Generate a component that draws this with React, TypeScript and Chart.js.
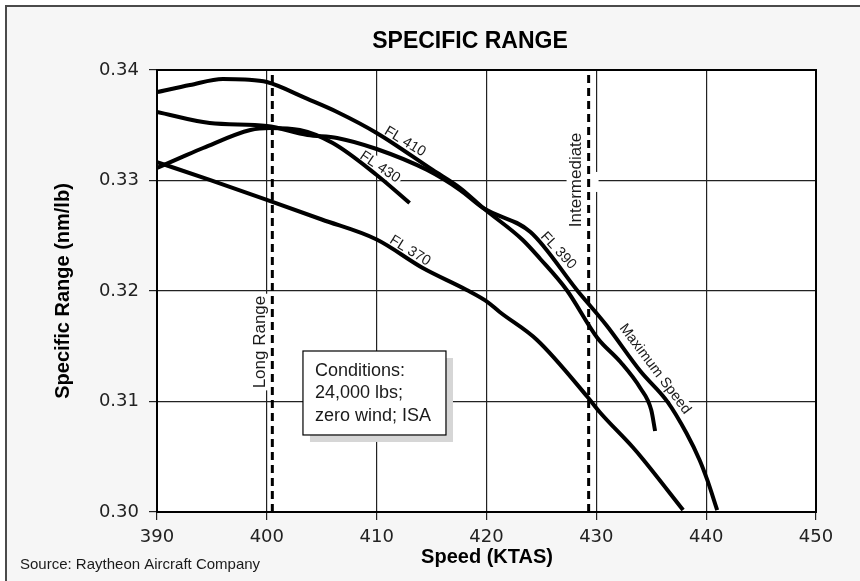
import React, { useEffect, useRef } from "react";
import { Chart, registerables } from "chart.js";

Chart.register(...registerables);

// ---------- data ----------
const X_TICKS = [390, 400, 410, 420, 430, 440, 450];
const Y_TICKS = [0.3, 0.31, 0.32, 0.33, 0.34];

const FL370_SPEED = [390.0, 394.8, 400.0, 405.0, 410.0, 414.2, 418.2, 420.1, 421.2, 424.6, 429.2, 430.3, 433.3, 434.3, 437.9];
const FL370_SR = [0.33167, 0.33005, 0.32824, 0.32647, 0.32466, 0.32208, 0.32009, 0.319, 0.3181, 0.31557, 0.31041, 0.30905, 0.30588, 0.30471, 0.30018];

const FL390_SPEED = [390.0, 394.8, 400.0, 403.7, 406.4, 410.0, 414.6, 417.6, 419.7, 424.0, 428.3, 430.9, 434.0, 436.5, 438.2, 439.4, 440.1, 441.0];
const FL390_SR = [0.3362, 0.3352, 0.33493, 0.33412, 0.33385, 0.33285, 0.33095, 0.32914, 0.32751, 0.32534, 0.32, 0.31692, 0.31276, 0.30995, 0.30715, 0.30471, 0.3029, 0.30018];

const FL410_SPEED = [390.0, 393.0, 396.0, 398.0, 400.0, 403.7, 406.4, 410.0, 415.1, 417.6, 419.7, 423.3, 424.9, 427.3, 430.1, 432.2, 434.0, 435.0, 435.35];
const FL410_SR = [0.338, 0.33864, 0.33919, 0.33914, 0.33891, 0.33738, 0.3362, 0.3343, 0.33095, 0.32932, 0.32751, 0.32462, 0.3229, 0.32009, 0.31575, 0.31357, 0.31122, 0.30923, 0.30733];

const FL430_SPEED = [390.0, 392.1, 394.2, 398.5, 400.3, 403.0, 406.0, 410.0, 413.0];
const FL430_SR = [0.33113, 0.33204, 0.33294, 0.33457, 0.33475, 0.33457, 0.33339, 0.3305, 0.32796];

const LONG_RANGE_SPEED = 400.5;
const INTERMEDIATE_SPEED = 429.3;

// ---------- texts ----------
const TITLE = "SPECIFIC RANGE";
const X_TITLE = "Speed (KTAS)";
const Y_TITLE = "Specific Range (nm/lb)";
const SOURCE = "Source: Raytheon Aircraft Company";
const CONDITIONS = ["Conditions:", "24,000 lbs;", "zero wind; ISA"];

type Label = {
  text: string;
  speed: number;
  sr: number;
  angle: number;
  size: number;
  gap?: [number, number, number, number];
};

const CURVE_LABELS: Label[] = [
  { text: "FL 410", speed: 412.58, sr: 0.33351, angle: 31, size: 14.5 },
  { text: "FL 430", speed: 410.3, sr: 0.33122, angle: 34, size: 14.5 },
  { text: "FL 370", speed: 413.04, sr: 0.32364, angle: 32, size: 14.5 },
  { text: "FL 390", speed: 426.54, sr: 0.32364, angle: 47, size: 14.5 },
  { text: "Maximum Speed", speed: 435.34, sr: 0.31294, angle: 53, size: 14.5 },
  { text: "Long Range", speed: 399.38, sr: 0.31538, angle: -90, size: 17 },
  { text: "Intermediate", speed: 428.2, sr: 0.33005, angle: -90, size: 17, gap: [-10, -8, 22, 12] },
];

const CONDITIONS_BOX = { speed0: 403.29, sr0: 0.31457, speed1: 416.31, sr1: 0.30697 };

const SANS = '"Liberation Sans", Arial, sans-serif';
const TICK_FONT = '"DejaVu Sans", sans-serif';

const pts = (sp: number[], sr: number[]) => sp.map((x, i) => ({ x, y: sr[i] }));

const curve = (sp: number[], sr: number[]) => ({
  data: pts(sp, sr),
  borderColor: "#000",
  borderWidth: 4,
  pointRadius: 0,
  fill: false,
  cubicInterpolationMode: "monotone" as const,
  borderCapStyle: "butt" as const,
  borderJoinStyle: "round" as const,
});

const marker = (speed: number) => ({
  data: [
    { x: speed, y: Y_TICKS[0] },
    { x: speed, y: Y_TICKS[Y_TICKS.length - 1] },
  ],
  borderColor: "#000",
  borderWidth: 3,
  borderDash: [8, 5],
  pointRadius: 0,
  fill: false,
  tension: 0,
});

const decor = {
  id: "decor",
  beforeDraw(chart: any) {
    const { ctx, width, height, chartArea: a } = chart;
    ctx.save();
    ctx.fillStyle = "#ffffff";
    ctx.fillRect(0, 0, width, height);
    ctx.fillStyle = "#f6f6f6";
    ctx.fillRect(6, 6, width, height);
    ctx.strokeStyle = "#4a4a4a";
    ctx.lineWidth = 2;
    ctx.beginPath();
    ctx.moveTo(6, height);
    ctx.lineTo(6, 6);
    ctx.lineTo(width, 6);
    ctx.stroke();
    ctx.fillStyle = "#ffffff";
    ctx.fillRect(a.left, a.top, a.right - a.left, a.bottom - a.top);
    ctx.restore();
  },
  beforeDatasetsDraw(chart: any) {
    const { ctx, chartArea: a } = chart;
    const xs = chart.scales.x;
    const ys = chart.scales.y;
    ctx.save();
    // plot frame
    ctx.strokeStyle = "#000";
    ctx.lineWidth = 2;
    ctx.strokeRect(a.left, a.top, a.right - a.left, a.bottom - a.top);

    // labels with white background
    for (const lab of CURVE_LABELS) {
      const px = xs.getPixelForValue(lab.speed);
      const py = ys.getPixelForValue(lab.sr);
      if (lab.gap) {
        ctx.fillStyle = "#fff";
        ctx.fillRect(px + lab.gap[0], py + lab.gap[1], lab.gap[2] - lab.gap[0], lab.gap[3] - lab.gap[1]);
      }
      ctx.save();
      ctx.translate(px, py);
      ctx.rotate((lab.angle * Math.PI) / 180);
      ctx.font = `${lab.size}px ${SANS}`;
      const w = ctx.measureText(lab.text).width;
      const h = lab.size * 1.05;
      ctx.fillStyle = "#fff";
      ctx.fillRect(-w / 2 - 2, -h / 2, w + 4, h);
      ctx.fillStyle = "#1a1a1a";
      ctx.textAlign = "center";
      ctx.textBaseline = "middle";
      ctx.fillText(lab.text, 0, 0);
      ctx.restore();
    }

    // conditions box
    const x0 = xs.getPixelForValue(CONDITIONS_BOX.speed0);
    const x1 = xs.getPixelForValue(CONDITIONS_BOX.speed1);
    const y0 = ys.getPixelForValue(CONDITIONS_BOX.sr0);
    const y1 = ys.getPixelForValue(CONDITIONS_BOX.sr1);
    ctx.fillStyle = "#d6d6d6";
    ctx.fillRect(x0 + 7, y0 + 7, x1 - x0, y1 - y0);
    ctx.fillStyle = "#fff";
    ctx.fillRect(x0, y0, x1 - x0, y1 - y0);
    ctx.strokeStyle = "#000";
    ctx.lineWidth = 1.2;
    ctx.strokeRect(x0, y0, x1 - x0, y1 - y0);
    ctx.fillStyle = "#1a1a1a";
    ctx.font = `18px ${SANS}`;
    ctx.textAlign = "left";
    ctx.textBaseline = "alphabetic";
    CONDITIONS.forEach((t, i) => ctx.fillText(t, x0 + 12, y0 + 25 + i * 22.3));
    ctx.restore();
  },
  afterDraw(chart: any) {
    const { ctx } = chart;
    ctx.save();
    ctx.fillStyle = "#000";
    ctx.textBaseline = "alphabetic";
    ctx.textAlign = "center";
    ctx.font = `bold 23px ${SANS}`;
    ctx.fillText(TITLE, 470, 48.3);
    ctx.font = `bold 20px ${SANS}`;
    ctx.fillText(X_TITLE, 487, 562.5);
    ctx.save();
    ctx.translate(69, 291);
    ctx.rotate(-Math.PI / 2);
    ctx.fillText(Y_TITLE, 0, 0);
    ctx.restore();
    ctx.textAlign = "left";
    ctx.fillStyle = "#1a1a1a";
    ctx.font = `15px ${SANS}`;
    ctx.fillText(SOURCE, 20, 568.5);
    ctx.restore();
  },
};

export default function App() {
  const ref = useRef<HTMLCanvasElement>(null);
  useEffect(() => {
    document.body.style.margin = "0";
    const canvas = ref.current!;
    const chart = new Chart(canvas, {
      type: "line",
      data: {
        datasets: [
          curve(FL370_SPEED, FL370_SR),
          curve(FL390_SPEED, FL390_SR),
          curve(FL410_SPEED, FL410_SR),
          curve(FL430_SPEED, FL430_SR),
          marker(LONG_RANGE_SPEED),
          marker(INTERMEDIATE_SPEED),
        ] as any,
      },
      options: {
        responsive: false,
        animation: false,
        events: [],
        layout: { padding: { left: 0, top: 70, right: 44, bottom: 0 } },
        plugins: { legend: { display: false }, title: { display: false }, tooltip: { enabled: false } },
        scales: {
          x: {
            type: "linear",
            min: X_TICKS[0],
            max: X_TICKS[X_TICKS.length - 1],
            afterBuildTicks: (s: any) => {
              s.ticks = X_TICKS.map((v) => ({ value: v }));
            },
            afterFit: (s: any) => {
              s.height = 69;
            },
            grid: { color: "#222", lineWidth: 1.2, drawTicks: true, tickLength: 8, tickColor: "#222" },
            border: { display: true, color: "#000", width: 2 },
            ticks: {
              font: { family: TICK_FONT, size: 18 },
              color: "#222",
              padding: 7,
              maxRotation: 0,
              autoSkip: false,
              callback: (v: any) => String(v),
            },
          },
          y: {
            type: "linear",
            min: Y_TICKS[0],
            max: Y_TICKS[Y_TICKS.length - 1],
            afterBuildTicks: (s: any) => {
              s.ticks = Y_TICKS.map((v) => ({ value: v }));
            },
            afterFit: (s: any) => {
              s.width = 157;
            },
            grid: { color: "#222", lineWidth: 1.2, drawTicks: true, tickLength: 8, tickColor: "#222" },
            border: { display: true, color: "#000", width: 2 },
            ticks: {
              font: { family: TICK_FONT, size: 18 },
              color: "#222",
              padding: 10,
              autoSkip: false,
              callback: (v: any) => Number(v).toFixed(2),
            },
          },
        },
      },
      plugins: [decor],
    });
    return () => chart.destroy();
  }, []);
  return (
    <div style={{ width: 860, height: 581 }}>
      <canvas ref={ref} width={860} height={581} style={{ display: "block", width: 860, height: 581 }} />
    </div>
  );
}
